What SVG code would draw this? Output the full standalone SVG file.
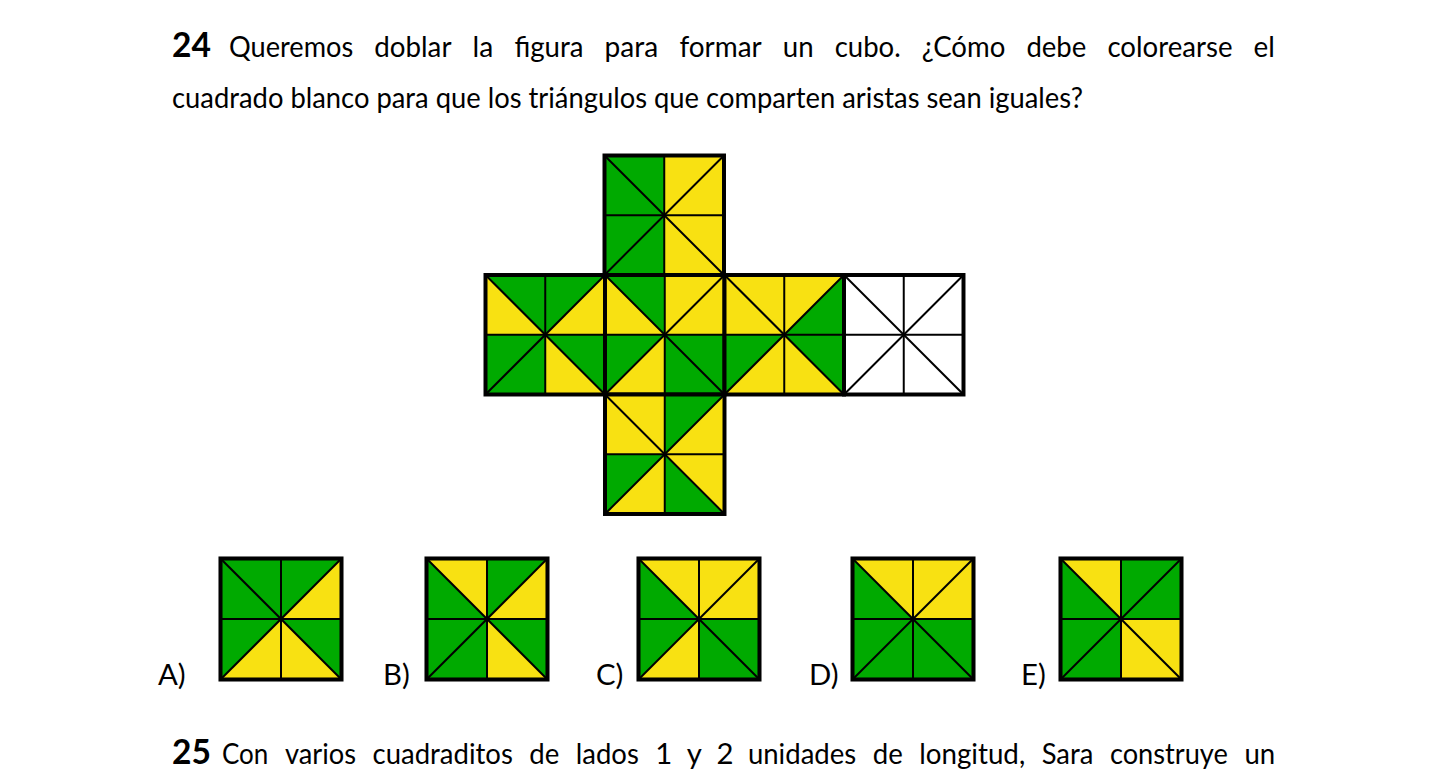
<svg xmlns="http://www.w3.org/2000/svg" xmlns:xlink="http://www.w3.org/1999/xlink" width="1446" height="771" viewBox="0 0 1446 771">
<style>
.g{fill:#00AA00}
.y{fill:#F8E112}
.w{fill:#FFFFFF}
.ln{stroke:#000;stroke-width:2;fill:none}
.bd{stroke:#000;stroke-width:4;fill:none;stroke-linejoin:miter}
.t{font-family:Lato,"Liberation Sans",sans-serif;font-size:29.3px;fill:#000}
.b{font-weight:bold;font-size:35px}
</style>
<defs>
<g id="grid">
<line class="ln" x1="60" y1="0" x2="60" y2="120"/>
<line class="ln" x1="0" y1="60" x2="120" y2="60"/>
<line class="ln" x1="0" y1="0" x2="120" y2="120"/>
<line class="ln" x1="120" y1="0" x2="0" y2="120"/>
<rect class="bd" x="0" y="0" width="120" height="120"/>
</g>
</defs>

<g id="title">
<text class="t" y="57"><tspan class="b" x="172" textLength="39" lengthAdjust="spacingAndGlyphs">24</tspan><tspan x="229" textLength="124.2" lengthAdjust="spacingAndGlyphs">Queremos</tspan><tspan x="374.3" textLength="77.2" lengthAdjust="spacingAndGlyphs">doblar</tspan><tspan x="472.6" textLength="20.7" lengthAdjust="spacingAndGlyphs">la</tspan><tspan x="514.4" textLength="69.1" lengthAdjust="spacingAndGlyphs">figura</tspan><tspan x="604.6" textLength="53.7" lengthAdjust="spacingAndGlyphs">para</tspan><tspan x="679.4" textLength="82.3" lengthAdjust="spacingAndGlyphs">formar</tspan><tspan x="782.8" textLength="30.8" lengthAdjust="spacingAndGlyphs">un</tspan><tspan x="834.7" textLength="66" lengthAdjust="spacingAndGlyphs">cubo.</tspan><tspan x="921.8" textLength="83.5" lengthAdjust="spacingAndGlyphs">¿Cómo</tspan><tspan x="1026.4" textLength="59.9" lengthAdjust="spacingAndGlyphs">debe</tspan><tspan x="1107.4" textLength="125.1" lengthAdjust="spacingAndGlyphs">colorearse</tspan><tspan x="1253.6" textLength="21.3" lengthAdjust="spacingAndGlyphs">el</tspan></text>
<text class="t" x="172" y="108" textLength="911" lengthAdjust="spacingAndGlyphs">cuadrado blanco para que los triángulos que comparten aristas sean iguales?</text>
</g>

<!-- Net -->
<g id="net-top" transform="translate(604.5,155.5) scale(0.9958)">
<polygon class="g" points="0,0 60,0 60,60"/><polygon class="y" points="60,0 120,0 60,60"/><polygon class="y" points="120,0 120,60 60,60"/><polygon class="y" points="120,60 120,120 60,60"/><polygon class="y" points="120,120 60,120 60,60"/><polygon class="g" points="60,120 0,120 60,60"/><polygon class="g" points="0,120 0,60 60,60"/><polygon class="g" points="0,60 0,0 60,60"/>
<use xlink:href="#grid"/>
</g>
<g id="net-left" transform="translate(485.5,275) scale(0.9958)">
<polygon class="g" points="0,0 60,0 60,60"/><polygon class="g" points="60,0 120,0 60,60"/><polygon class="y" points="120,0 120,60 60,60"/><polygon class="g" points="120,60 120,120 60,60"/><polygon class="y" points="120,120 60,120 60,60"/><polygon class="g" points="60,120 0,120 60,60"/><polygon class="g" points="0,120 0,60 60,60"/><polygon class="y" points="0,60 0,0 60,60"/>
<use xlink:href="#grid"/>
</g>
<g id="net-center" transform="translate(605,275) scale(0.9958)">
<polygon class="g" points="0,0 60,0 60,60"/><polygon class="y" points="60,0 120,0 60,60"/><polygon class="y" points="120,0 120,60 60,60"/><polygon class="g" points="120,60 120,120 60,60"/><polygon class="g" points="120,120 60,120 60,60"/><polygon class="y" points="60,120 0,120 60,60"/><polygon class="g" points="0,120 0,60 60,60"/><polygon class="y" points="0,60 0,0 60,60"/>
<use xlink:href="#grid"/>
</g>
<g id="net-right" transform="translate(724.5,275) scale(0.9958)">
<polygon class="y" points="0,0 60,0 60,60"/><polygon class="y" points="60,0 120,0 60,60"/><polygon class="g" points="120,0 120,60 60,60"/><polygon class="g" points="120,60 120,120 60,60"/><polygon class="y" points="120,120 60,120 60,60"/><polygon class="y" points="60,120 0,120 60,60"/><polygon class="g" points="0,120 0,60 60,60"/><polygon class="y" points="0,60 0,0 60,60"/>
<use xlink:href="#grid"/>
</g>
<g id="net-white" transform="translate(844,275) scale(0.9958)">
<rect class="w" x="0" y="0" width="120" height="120"/>
<use xlink:href="#grid"/>
</g>
<g id="net-bottom" transform="translate(605,394.5) scale(0.9958)">
<polygon class="y" points="0,0 60,0 60,60"/><polygon class="g" points="60,0 120,0 60,60"/><polygon class="y" points="120,0 120,60 60,60"/><polygon class="y" points="120,60 120,120 60,60"/><polygon class="g" points="120,120 60,120 60,60"/><polygon class="y" points="60,120 0,120 60,60"/><polygon class="g" points="0,120 0,60 60,60"/><polygon class="y" points="0,60 0,0 60,60"/>
<use xlink:href="#grid"/>
</g>

<!-- Options -->
<g id="opt-A">
<text class="t" x="158" y="685">A)</text>
<g transform="translate(220.5,558.5) scale(1.0083)">
<polygon class="g" points="0,0 60,0 60,60"/><polygon class="g" points="60,0 120,0 60,60"/><polygon class="y" points="120,0 120,60 60,60"/><polygon class="g" points="120,60 120,120 60,60"/><polygon class="y" points="120,120 60,120 60,60"/><polygon class="y" points="60,120 0,120 60,60"/><polygon class="g" points="0,120 0,60 60,60"/><polygon class="g" points="0,60 0,0 60,60"/>
<use xlink:href="#grid"/>
</g>
</g>
<g id="opt-B">
<text class="t" x="383" y="685">B)</text>
<g transform="translate(426.5,558.5) scale(1.0083)">
<polygon class="y" points="0,0 60,0 60,60"/><polygon class="g" points="60,0 120,0 60,60"/><polygon class="y" points="120,0 120,60 60,60"/><polygon class="g" points="120,60 120,120 60,60"/><polygon class="y" points="120,120 60,120 60,60"/><polygon class="g" points="60,120 0,120 60,60"/><polygon class="g" points="0,120 0,60 60,60"/><polygon class="g" points="0,60 0,0 60,60"/>
<use xlink:href="#grid"/>
</g>
</g>
<g id="opt-C">
<text class="t" x="596" y="685">C)</text>
<g transform="translate(638.5,558.5) scale(1.0083)">
<polygon class="y" points="0,0 60,0 60,60"/><polygon class="y" points="60,0 120,0 60,60"/><polygon class="y" points="120,0 120,60 60,60"/><polygon class="g" points="120,60 120,120 60,60"/><polygon class="g" points="120,120 60,120 60,60"/><polygon class="y" points="60,120 0,120 60,60"/><polygon class="g" points="0,120 0,60 60,60"/><polygon class="g" points="0,60 0,0 60,60"/>
<use xlink:href="#grid"/>
</g>
</g>
<g id="opt-D">
<text class="t" x="809" y="685">D)</text>
<g transform="translate(852.5,558.5) scale(1.0083)">
<polygon class="y" points="0,0 60,0 60,60"/><polygon class="y" points="60,0 120,0 60,60"/><polygon class="y" points="120,0 120,60 60,60"/><polygon class="g" points="120,60 120,120 60,60"/><polygon class="g" points="120,120 60,120 60,60"/><polygon class="g" points="60,120 0,120 60,60"/><polygon class="g" points="0,120 0,60 60,60"/><polygon class="g" points="0,60 0,0 60,60"/>
<use xlink:href="#grid"/>
</g>
</g>
<g id="opt-E">
<text class="t" x="1021" y="685">E)</text>
<g transform="translate(1060.5,558.5) scale(1.0083)">
<polygon class="y" points="0,0 60,0 60,60"/><polygon class="g" points="60,0 120,0 60,60"/><polygon class="g" points="120,0 120,60 60,60"/><polygon class="y" points="120,60 120,120 60,60"/><polygon class="y" points="120,120 60,120 60,60"/><polygon class="g" points="60,120 0,120 60,60"/><polygon class="g" points="0,120 0,60 60,60"/><polygon class="g" points="0,60 0,0 60,60"/>
<use xlink:href="#grid"/>
</g>
</g>

<g id="next-question">
<text class="t" y="764"><tspan class="b" x="172" textLength="39" lengthAdjust="spacingAndGlyphs">25</tspan><tspan x="222" textLength="46.4" lengthAdjust="spacingAndGlyphs">Con</tspan><tspan x="284.9" textLength="71.1" lengthAdjust="spacingAndGlyphs">varios</tspan><tspan x="372.5" textLength="140.3" lengthAdjust="spacingAndGlyphs">cuadraditos</tspan><tspan x="529.3" textLength="30" lengthAdjust="spacingAndGlyphs">de</tspan><tspan x="575.8" textLength="63" lengthAdjust="spacingAndGlyphs">lados</tspan><tspan x="655.3">1</tspan><tspan x="686.7">y</tspan><tspan x="716.5">2</tspan><tspan x="747.9" textLength="108.3" lengthAdjust="spacingAndGlyphs">unidades</tspan><tspan x="872.7" textLength="30" lengthAdjust="spacingAndGlyphs">de</tspan><tspan x="919.2" textLength="106" lengthAdjust="spacingAndGlyphs">longitud,</tspan><tspan x="1041.7" textLength="51.7" lengthAdjust="spacingAndGlyphs">Sara</tspan><tspan x="1109.9" textLength="118" lengthAdjust="spacingAndGlyphs">construye</tspan><tspan x="1244.4" textLength="30.8" lengthAdjust="spacingAndGlyphs">un</tspan></text>
</g>
</svg>
